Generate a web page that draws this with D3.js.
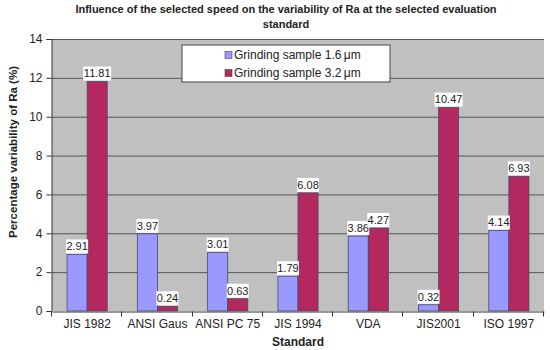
<!DOCTYPE html>
<html>
<head lang="en">
	<meta charset="UTF-8">
	<title>Ra variability</title>
	<script src="https://cdn.jsdelivr.net/npm/d3@7"></script>
	<style type="text/css">
		body { margin: 0; background: #fff; }
		svg text { font-family: "Liberation Sans", Arial, sans-serif; }
	</style>
</head>
<body>
	<svg id="chart" width="550" height="350"></svg>
	<script type="text/javascript">
		var categories = ['JIS 1982', 'ANSI Gaus', 'ANSI PC 75', 'JIS 1994', 'VDA', 'JIS2001', 'ISO 1997'];
		var seriesNames = ['Grinding sample 1.6\u202fμm', 'Grinding sample 3.2\u202fμm'];
		var sample16 = [2.91, 3.97, 3.01, 1.79, 3.86, 0.32, 4.14];
		var sample32 = [11.81, 0.24, 0.63, 6.08, 4.27, 10.47, 6.93];
		var yTicks = [0, 2, 4, 6, 8, 10, 12, 14];
		var colors = ['#9999ff', '#b3295f'];

		var svg = d3.select('#chart');
		var m = { left: 52, right: 6, top: 39, bottom: 39 };
		var W = 550, H = 350;

		var x = d3.scaleBand().domain(categories).range([m.left, W - m.right]).padding(0);
		var xs = d3.scaleBand().domain([0, 1]).range([0, x.bandwidth()]).paddingInner(0).paddingOuter(0.75);
		var y = d3.scaleLinear().domain([0, 14]).range([H - m.bottom, m.top]);

		// plot area
		svg.append('rect')
			.attr('x', m.left).attr('y', m.top)
			.attr('width', W - m.right - m.left).attr('height', H - m.bottom - m.top)
			.attr('fill', '#c0c0c0');

		// gridlines
		svg.append('g').selectAll('line').data(yTicks.slice(1)).enter().append('line')
			.attr('x1', m.left).attr('x2', W - m.right)
			.attr('y1', function (d) { return y(d) + 0.5; })
			.attr('y2', function (d) { return y(d) + 0.5; })
			.attr('stroke', '#555').attr('stroke-width', 1);

		// y axis
		var yAxis = svg.append('g')
			.attr('transform', 'translate(' + (m.left - 0.5) + ',0)')
			.call(d3.axisLeft(y).tickValues(yTicks).tickSize(5).tickPadding(4));
		yAxis.select('.domain').attr('stroke', '#333');
		yAxis.selectAll('.tick line').attr('stroke', '#333');
		yAxis.selectAll('text').attr('font-size', 12).attr('fill', '#222');

		// x axis
		var xAxis = svg.append('g')
			.attr('transform', 'translate(0,' + (y(0) + 0.5) + ')')
			.call(d3.axisBottom(x).tickSize(0).tickPadding(8));
		xAxis.select('.domain').attr('stroke', '#333');
		xAxis.selectAll('text').attr('font-size', 12).attr('fill', '#222');
		// category separator ticks
		var bounds = categories.map(function (c) { return x(c); }).concat([W - m.right]);
		xAxis.selectAll('.sep').data(bounds).enter().append('line')
			.attr('class', 'sep')
			.attr('x1', function (d) { return Math.round(d) - 0.5; })
			.attr('x2', function (d) { return Math.round(d) - 0.5; })
			.attr('y1', 0).attr('y2', 5)
			.attr('stroke', '#333');

		// bars
		var rows = categories.map(function (c, i) {
			return { cat: c, vals: [sample16[i], sample32[i]] };
		});
		var groups = svg.append('g').selectAll('g').data(rows).enter().append('g')
			.attr('transform', function (d) { return 'translate(' + x(d.cat) + ',0)'; });

		groups.selectAll('rect').data(function (d) { return d.vals; }).enter().append('rect')
			.attr('x', function (d, i) { return xs(i); })
			.attr('y', function (d) { return y(d); })
			.attr('width', xs.bandwidth())
			.attr('height', function (d) { return y(0) - y(d); })
			.attr('fill', function (d, i) { return colors[i]; })
			.attr('stroke', '#4a4a6a').attr('stroke-width', 0.8);

		// data labels with white background
		var lbl = groups.selectAll('g.lbl').data(function (d) { return d.vals; }).enter().append('g')
			.attr('class', 'lbl')
			.attr('transform', function (d, i) {
				return 'translate(' + (xs(i) + xs.bandwidth() / 2) + ',' + (y(d) - 8) + ')';
			});
		lbl.append('rect')
			.attr('x', function (d) { return d >= 10 ? -14 : -11; })
			.attr('y', -7)
			.attr('width', function (d) { return d >= 10 ? 28 : 22; })
			.attr('height', 14)
			.attr('fill', '#fff');
		lbl.append('text')
			.attr('text-anchor', 'middle').attr('dy', '0.35em')
			.attr('font-size', 11).attr('fill', '#222')
			.text(function (d) { return d.toFixed(2); });

		// legend
		var lg = svg.append('g').attr('transform', 'translate(182,45)');
		lg.append('rect').attr('width', 208).attr('height', 37)
			.attr('fill', '#fff').attr('stroke', '#444').attr('stroke-width', 1);
		var li = lg.selectAll('g').data(seriesNames).enter().append('g')
			.attr('transform', function (d, i) { return 'translate(47,' + (10 + i * 18) + ')'; });
		li.append('rect').attr('x', -4).attr('y', -3.5).attr('width', 7).attr('height', 7)
			.attr('fill', function (d, i) { return colors[i]; })
			.attr('stroke', '#444').attr('stroke-width', 0.6);
		li.append('text').attr('x', 5).attr('dy', '0.35em')
			.attr('font-size', 12).attr('fill', '#222')
			.text(function (d) { return d; });

		// titles
		var title = svg.append('text').attr('text-anchor', 'middle')
			.attr('font-size', 11).attr('font-weight', 'bold').attr('fill', '#222');
		title.append('tspan').attr('x', 286).attr('y', 13)
			.text('Influence of the selected speed on the variability of Ra at the selected evaluation');
		title.append('tspan').attr('x', 286).attr('y', 28).text('standard');

		svg.append('text')
			.attr('transform', 'translate(17,152) rotate(-90)')
			.attr('text-anchor', 'middle')
			.attr('font-size', 11.5).attr('font-weight', 'bold').attr('fill', '#222')
			.text('Percentage variability of Ra (%)');

		svg.append('text')
			.attr('x', (m.left + W - m.right) / 2).attr('y', 346)
			.attr('text-anchor', 'middle')
			.attr('font-size', 12).attr('font-weight', 'bold').attr('fill', '#222')
			.text('Standard');
	</script>
</body>
</html>
